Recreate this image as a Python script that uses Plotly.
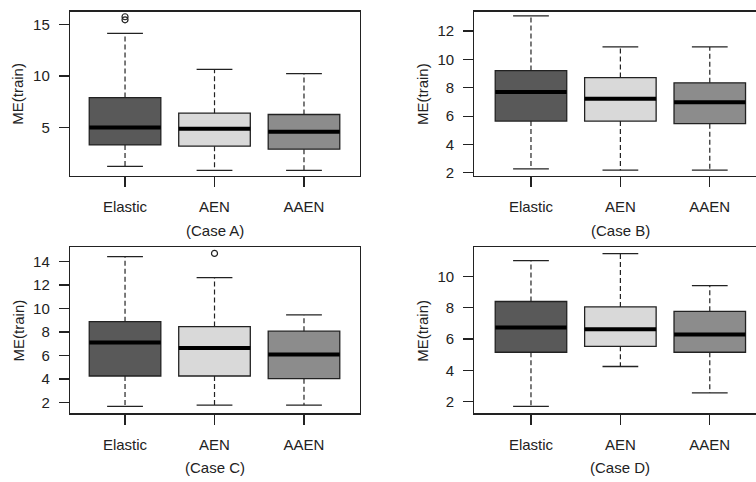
import plotly.graph_objects as go

# ---------------- data ----------------
categories = ["Elastic", "AEN", "AAEN"]
positions = [1, 2, 3]
fills = ["#595959", "#d9d9d9", "#8c8c8c"]

q1_A = [3.30, 3.17, 2.88]
med_A = [5.00, 4.87, 4.58]
q3_A = [7.90, 6.38, 6.25]
lo_A = [1.22, 0.83, 0.83]
hi_A = [14.13, 10.64, 10.23]
out_A = [[15.45, 15.75], [], []]

q1_B = [5.65, 5.65, 5.47]
med_B = [7.70, 7.23, 6.98]
q3_B = [9.21, 8.72, 8.35]
lo_B = [2.28, 2.19, 2.19]
hi_B = [13.07, 10.88, 10.88]
out_B = [[], [], []]

q1_C = [4.25, 4.25, 4.02]
med_C = [7.11, 6.63, 6.08]
q3_C = [8.88, 8.46, 8.07]
lo_C = [1.66, 1.78, 1.78]
hi_C = [14.42, 12.62, 9.45]
out_C = [[], [14.69], []]

q1_D = [5.16, 5.54, 5.16]
med_D = [6.74, 6.63, 6.30]
q3_D = [8.40, 8.05, 7.77]
lo_D = [1.70, 4.25, 2.57]
hi_D = [11.01, 11.45, 9.41]
out_D = [[], [], []]

case_labels = ["(Case A)", "(Case B)", "(Case C)", "(Case D)"]
y_title = "ME(train)"

panels = [
    (q1_A, med_A, q3_A, lo_A, hi_A, out_A),
    (q1_B, med_B, q3_B, lo_B, hi_B, out_B),
    (q1_C, med_C, q3_C, lo_C, hi_C, out_C),
    (q1_D, med_D, q3_D, lo_D, hi_D, out_D),
]

# ---------------- layout geometry ----------------
W, H = 756, 482
FONT = "Liberation Sans, Arial, sans-serif"
INK = "#222222"
BOXW = 0.8
CAPW = 0.4

px_dom = {
    0: ((70, 360), (11.7, 177.7)),
    1: ((474.3, 756), (11.7, 177.7)),
    2: ((70, 360), (250, 417.7)),
    3: ((474.3, 756), (250, 417.7)),
}
x_ranges = [[0.385, 3.626], [0.366, 3.517], [0.385, 3.626], [0.366, 3.517]]
y_ranges = [[0.29, 16.25], [1.79, 13.37], [1.07, 15.2], [1.26, 11.85]]
y_dtick = [5, 2, 2, 2]
y_tick0 = [5, 2, 2, 2]

fig = go.Figure()

for p, (q1, med, q3, lo, hi, outs) in enumerate(panels):
    xa = "x" if p == 0 else f"x{p+1}"
    ya = "y" if p == 0 else f"y{p+1}"
    # boxes
    for i, pos in enumerate(positions):
        fig.add_trace(go.Box(
            x=[pos], q1=[q1[i]], median=[med[i]], q3=[q3[i]],
            lowerfence=[q1[i]], upperfence=[q3[i]],
            width=BOXW, fillcolor=fills[i],
            line=dict(color=INK, width=1.3), whiskerwidth=0,
            boxpoints=False, hoverinfo="skip", showlegend=False,
            xaxis=xa, yaxis=ya, name=categories[i]))
    # dashed whiskers, caps, medians
    wx, wy = [], []
    cx, cy = [], []
    mx, my = [], []
    for i, pos in enumerate(positions):
        wx += [pos, pos, None, pos, pos, None]
        wy += [q3[i], hi[i], None, q1[i], lo[i], None]
        cx += [pos - CAPW / 2, pos + CAPW / 2, None, pos - CAPW / 2, pos + CAPW / 2, None]
        cy += [hi[i], hi[i], None, lo[i], lo[i], None]
        mx += [pos - BOXW / 2, pos + BOXW / 2, None]
        my += [med[i], med[i], None]
    fig.add_trace(go.Scatter(x=wx, y=wy, mode="lines",
                             line=dict(color=INK, width=1.2, dash="5px,3px"),
                             hoverinfo="skip", showlegend=False, xaxis=xa, yaxis=ya))
    fig.add_trace(go.Scatter(x=cx, y=cy, mode="lines",
                             line=dict(color=INK, width=1.3),
                             hoverinfo="skip", showlegend=False, xaxis=xa, yaxis=ya))
    fig.add_trace(go.Scatter(x=mx, y=my, mode="lines",
                             line=dict(color="#000000", width=4),
                             hoverinfo="skip", showlegend=False, xaxis=xa, yaxis=ya))
    ox, oy = [], []
    for i, pos in enumerate(positions):
        for v in outs[i]:
            ox.append(pos)
            oy.append(v)
    if ox:
        fig.add_trace(go.Scatter(x=ox, y=oy, mode="markers",
                                 marker=dict(symbol="circle-open", size=6,
                                             color=INK, line=dict(width=1.2)),
                                 hoverinfo="skip", showlegend=False,
                                 xaxis=xa, yaxis=ya))

layout = dict(
    width=W, height=H,
    margin=dict(l=0, r=0, t=0, b=0),
    paper_bgcolor="white", plot_bgcolor="white",
    font=dict(family=FONT, size=15, color=INK),
    showlegend=False,
)

annotations = []
for p in range(4):
    (x0, x1), (y0, y1) = px_dom[p]
    xk = "xaxis" if p == 0 else f"xaxis{p+1}"
    yk = "yaxis" if p == 0 else f"yaxis{p+1}"
    xa = "x" if p == 0 else f"x{p+1}"
    ya = "y" if p == 0 else f"y{p+1}"
    right_panel = p in (1, 3)
    layout[xk] = dict(
        domain=[x0 / W, x1 / W], anchor=ya, range=x_ranges[p],
        tickmode="array", tickvals=positions, ticktext=categories,
        ticks="outside", ticklen=10, tickwidth=1.2, tickcolor=INK,
        ticklabelstandoff=7,
        showline=True, mirror=True, linecolor=INK, linewidth=1.2,
        showgrid=False, zeroline=False, fixedrange=True,
        tickfont=dict(family=FONT, size=15, color=INK),
    )
    layout[yk] = dict(
        domain=[1 - y1 / H, 1 - y0 / H], anchor=xa, range=y_ranges[p],
        tick0=y_tick0[p], dtick=y_dtick[p],
        ticks="outside", ticklen=10, tickwidth=1.2, tickcolor=INK,
        ticklabelstandoff=6,
        showline=True, mirror=(not right_panel), linecolor=INK, linewidth=1.2,
        showgrid=False, zeroline=False, fixedrange=True,
        tickfont=dict(family=FONT, size=15, color=INK),
    )
    # case label beneath the middle category
    xmid_px = x0 + (2 - x_ranges[p][0]) / (x_ranges[p][1] - x_ranges[p][0]) * (x1 - x0)
    annotations.append(dict(
        text=case_labels[p], x=xmid_px / W, y=1 - (y1 + 55) / H,
        xref="paper", yref="paper", showarrow=False,
        xanchor="center", yanchor="middle",
        font=dict(family=FONT, size=15, color=INK)))
    annotations.append(dict(
        text=y_title, x=(x0 - 52) / W, y=1 - ((y0 + y1) / 2) / H,
        xref="paper", yref="paper", showarrow=False, textangle=-90,
        xanchor="center", yanchor="middle",
        font=dict(family=FONT, size=15, color=INK)))

layout["annotations"] = annotations
fig.update_layout(**layout)
fig.write_html(
    "out.html",
    config={"displayModeBar": False, "staticPlot": True},
    post_script="document.body.style.margin='0px';document.body.style.overflow='hidden';",
)
